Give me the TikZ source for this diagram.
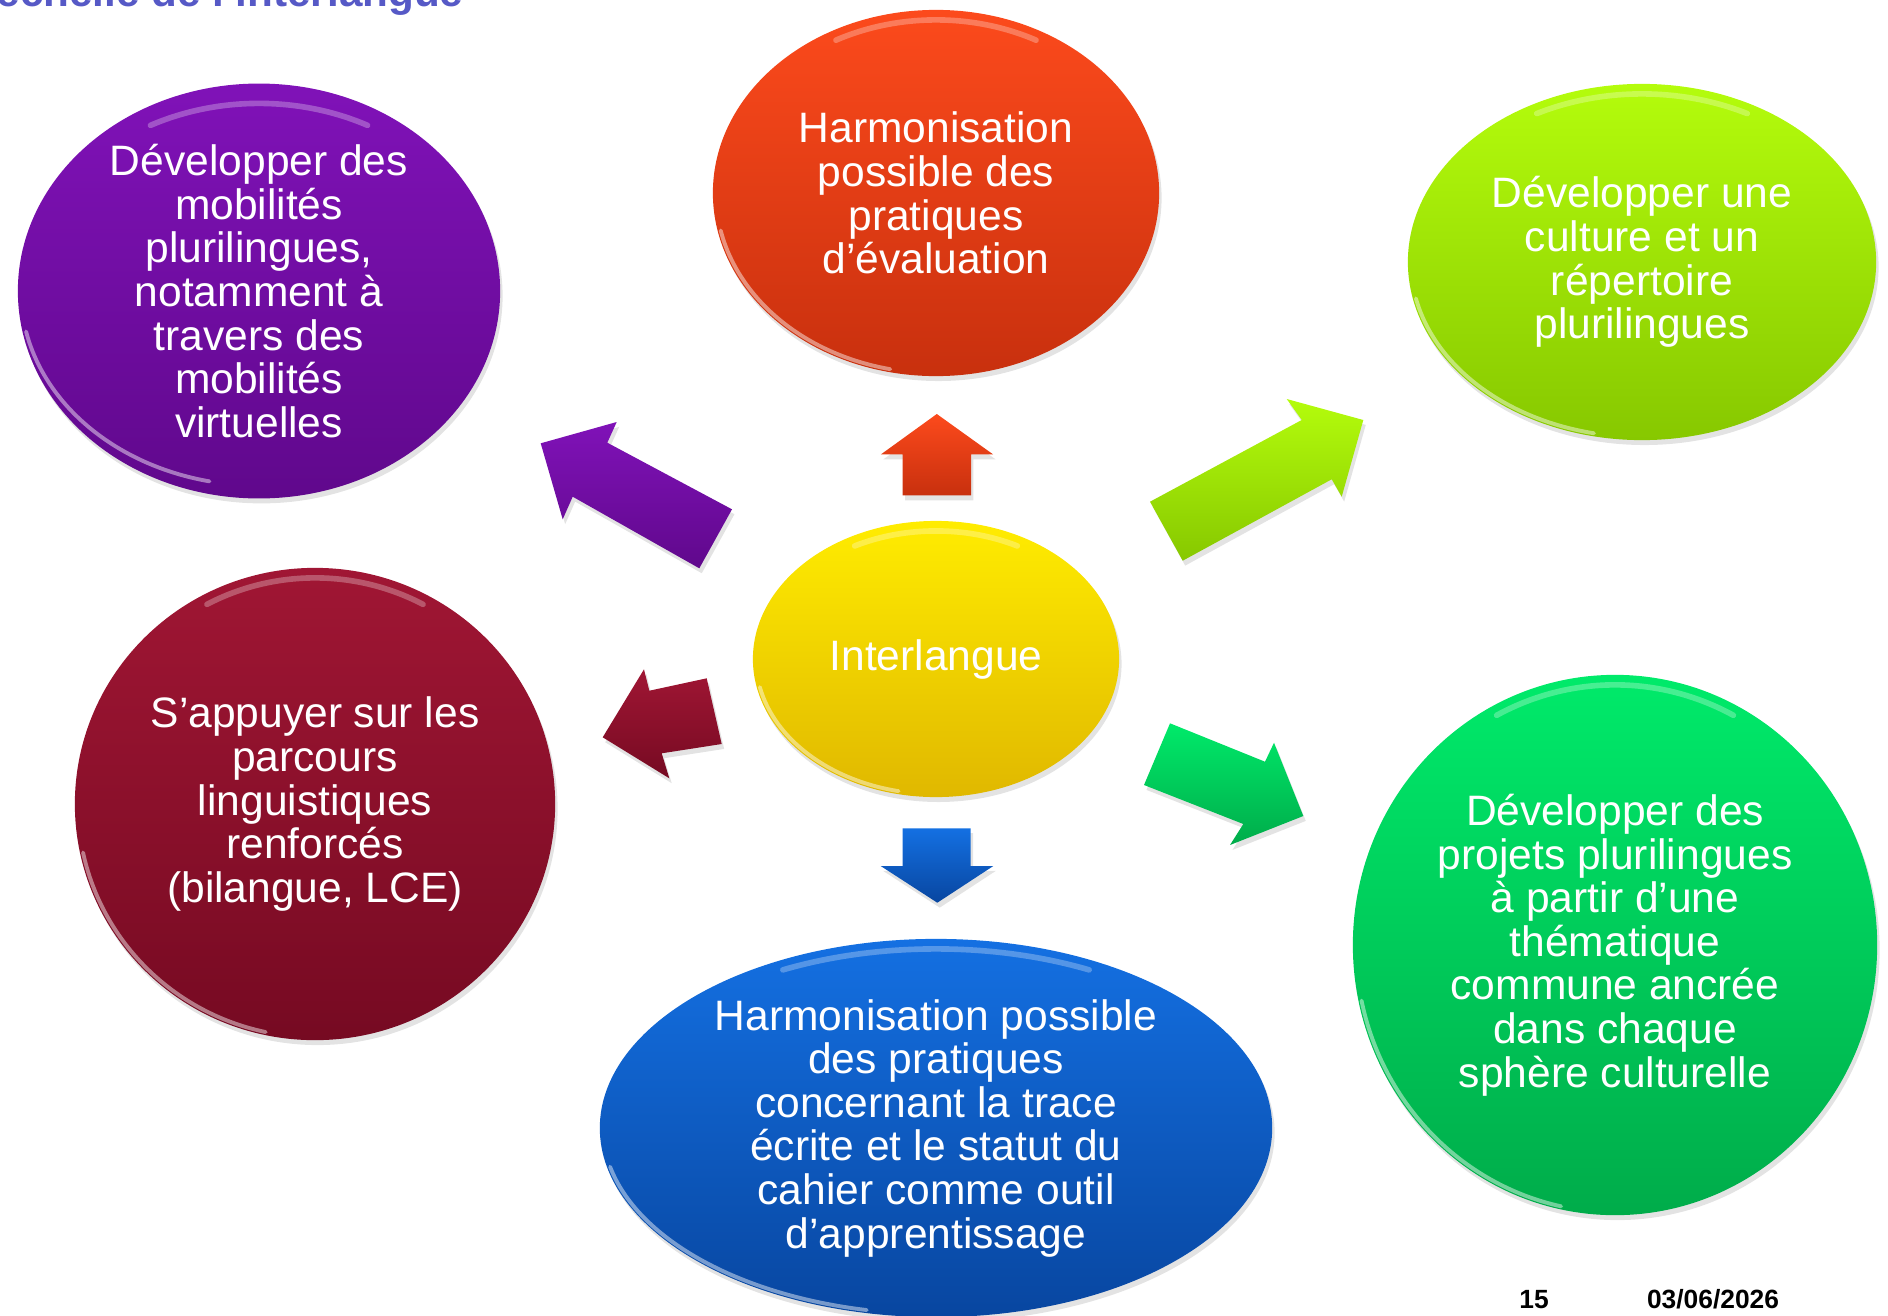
\documentclass[tikz,border=0pt]{standalone}
\usepackage{fontspec}
\setmainfont{Liberation Sans}
\usetikzlibrary{shapes.geometric,shadows}
\definecolor{titleblue}{RGB}{86,89,198}
\definecolor{puT}{RGB}{128,18,184}\definecolor{puB}{RGB}{96,8,140}
\definecolor{reT}{RGB}{252,74,28}\definecolor{reB}{RGB}{200,48,14}
\definecolor{liT}{RGB}{180,252,12}\definecolor{liB}{RGB}{135,200,0}
\definecolor{yeT}{RGB}{255,236,0}\definecolor{yeB}{RGB}{224,184,0}
\definecolor{drT}{RGB}{160,22,52}\definecolor{drB}{RGB}{118,10,34}
\definecolor{blT}{RGB}{20,112,226}\definecolor{blB}{RGB}{8,70,160}
\definecolor{grT}{RGB}{0,234,106}\definecolor{grB}{RGB}{0,172,74}
% gloss arcs: node, x radius (cm), y radius (cm)
\newcommand\myglossarcs[3]{%
  \draw[topgloss] (#1.center) ++(62:{#2cm-0.10cm} and {#3cm-0.10cm})
     arc[start angle=62, end angle=118, x radius={#2cm-0.10cm}, y radius={#3cm-0.10cm}];
  \draw[sidegloss] (#1.center) ++(192:{#2cm-0.03cm} and {#3cm-0.03cm})
     arc[start angle=192, end angle=258, x radius={#2cm-0.03cm}, y radius={#3cm-0.03cm}];}
\begin{document}
\begin{tikzpicture}[x=0.01cm,y=-0.01cm,
  softshadow/.style={drop shadow={opacity=0.22, shadow xshift=0.7pt, shadow yshift=-1.4pt}},
  bubble/.style={ellipse, inner sep=0pt, align=center, text=white,
    font=\fontsize{12.1pt}{12.4pt}\selectfont, softshadow},
  blockarrow/.style={softshadow},
  topgloss/.style={white, opacity=0.28, line width=1.6pt, line cap=round},
  sidegloss/.style={white, opacity=0.45, line width=1.1pt, line cap=round}
]
\useasboundingbox (0,0) rectangle (1888,1315);
\clip (0,0) rectangle (1888,1315);

% title (cut off at the top)
\node[anchor=base west, inner sep=0pt, text=titleblue,
  font=\bfseries\fontsize{12pt}{12pt}\selectfont] (title) at (-4,6) {échelle de l’interlangue};

% bubbles
\node[bubble, minimum width=4.82cm, minimum height=3.95cm, top color=puT, bottom color=puB] (pu) at (259,291)
  {Développer des\\mobilités\\plurilingues,\\notamment à\\travers des\\mobilités\\virtuelles};
\node[bubble, minimum width=4.46cm, minimum height=3.66cm, top color=reT, bottom color=reB] (re) at (936,193)
  {Harmonisation\\possible des\\pratiques\\d’évaluation};
\node[bubble, minimum width=4.68cm, minimum height=3.56cm, top color=liT, bottom color=liB] (li) at (1642,262)
  {Développer une\\culture et un\\répertoire\\plurilingues};
\node[bubble, minimum width=3.66cm, minimum height=2.76cm, top color=yeT, bottom color=yeB] (ye) at (936,659)
  {Interlangue};
\node[bubble, minimum width=4.80cm, minimum height=4.72cm, top color=drT, bottom color=drB] (dr) at (315,804)
  {S’appuyer sur les\\parcours\\linguistiques\\renforcés\\(bilangue, LCE)};
\node[bubble, minimum width=6.72cm, minimum height=3.78cm, top color=blT, bottom color=blB] (bl) at (936,1128)
  {Harmonisation possible\\des pratiques\\concernant la trace\\écrite et le statut du\\cahier comme outil\\d’apprentissage};
\node[bubble, minimum width=5.24cm, minimum height=5.40cm, top color=grT, bottom color=grB] (gr) at (1615,945)
  {Développer des\\projets plurilingues\\à partir d’une\\thématique\\commune ancrée\\dans chaque\\sphère culturelle};

\myglossarcs{pu}{2.41}{1.975}
\myglossarcs{re}{2.23}{1.83}
\myglossarcs{li}{2.34}{1.78}
\myglossarcs{ye}{1.83}{1.38}
\myglossarcs{dr}{2.40}{2.36}
\myglossarcs{bl}{3.36}{1.89}
\myglossarcs{gr}{2.62}{2.70}

% block arrows
\path[blockarrow, top color=puT, bottom color=puB]
  (540.7,443.3) -- (616.7,422) -- (607.3,442.7) -- (732,509.3) -- (699.3,568.3) -- (572.7,496.7) -- (562.7,519.3) -- cycle;
\path[blockarrow, top color=reT, bottom color=reB]
  (936.8,414) -- (993.1,454.4) -- (971,454.4) -- (971,495.4) -- (902.6,495.4) -- (902.6,454.4) -- (880.9,454.4) -- cycle;
\path[blockarrow, top color=liT, bottom color=liB]
  (1363.3,420) -- (1286.7,399) -- (1301.7,420) -- (1150,501.7) -- (1182.7,560.7) -- (1331.7,479.3) -- (1341.7,496.7) -- cycle;
\path[blockarrow, top color=drT, bottom color=drB]
  (602.7,737.3) -- (644,669.3) -- (649.3,690.7) -- (706.7,678.3) -- (721.7,744) -- (661.7,753.3) -- (669.3,778.3) -- cycle;
\path[blockarrow, top color=blT, bottom color=blB]
  (937.3,902.7) -- (993.3,866) -- (970.7,866) -- (970.7,828.3) -- (902.7,828.3) -- (902.7,866) -- (880.7,866) -- cycle;
\path[blockarrow, top color=grT, bottom color=grB]
  (1303.3,816) -- (1274,742.7) -- (1265,761.7) -- (1170,723.3) -- (1144,785) -- (1243.3,824) -- (1230,845) -- cycle;

% footer
\node[anchor=base, inner sep=0pt, font=\bfseries\fontsize{7.5pt}{7.5pt}\selectfont] (page) at (1534,1308) {15};
\node[anchor=base, inner sep=0pt, font=\bfseries\fontsize{7.5pt}{7.5pt}\selectfont] (date) at (1713,1308) {03/06/2026};
\end{tikzpicture}
\end{document}
